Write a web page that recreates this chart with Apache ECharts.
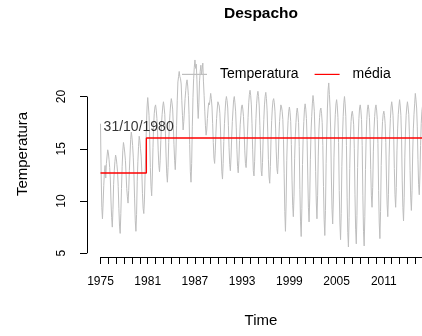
<!DOCTYPE html>
<html><head><meta charset="utf-8">
<script src="https://cdn.jsdelivr.net/npm/echarts@6/dist/echarts.min.js"></script>
<style>html,body{margin:0;padding:0;background:#fff}#c{width:422px;height:336px}</style>
</head><body><div id="c"></div>
<script>
const titulo = 'Despacho';
const inicio = 1975;
const frequencia = 12;
// Temperatura mensal (jan..dez), 1975-2015
const temperatura = [
17.4,12.6,9.4,8.3,9.8,11.5,12.8,13.4,12.2,13.6,14.3,14.9,
14.6,14.0,13.2,12.1,10.0,8.4,7.5,9.2,11.6,12.9,13.8,14.4,
14.1,13.5,12.8,11.4,9.3,7.6,6.9,8.8,11.2,13.3,14.8,15.6,
15.2,14.6,13.9,12.6,11.2,10.4,9.8,11.0,12.9,14.4,15.9,16.6,
16.1,15.3,14.2,12.5,10.2,8.1,7.1,8.7,11.9,13.8,15.2,16.2,
15.8,15.0,14.3,12.8,10.7,9.3,8.8,10.1,12.6,14.5,17.2,19.0,
19.9,19.1,18.2,16.0,13.2,11.4,10.5,12.3,15.1,17.2,18.4,19.0,
19.2,18.7,17.9,16.6,14.8,13.4,12.8,13.9,15.8,17.4,18.3,19.1,
19.5,19.0,18.3,16.5,14.3,12.6,11.8,13.2,15.6,17.3,18.4,19.3,
19.8,19.4,18.8,17.3,15.4,13.9,13.0,14.6,17.2,19.6,21.4,21.9,
22.4,21.9,21.7,21.2,19.6,18.2,16.8,17.6,18.7,19.8,20.6,21.3,
21.6,21.0,20.1,18.3,15.4,12.8,11.8,13.6,17.1,19.9,21.7,22.8,
23.5,22.7,23.1,21.6,19.2,17.9,19.4,21.5,22.4,23.0,22.1,22.6,
23.2,21.4,20.1,18.6,17.2,16.3,16.8,17.9,18.8,19.4,19.2,19.7,
20.3,19.8,19.0,17.4,15.6,14.1,13.6,14.8,16.5,17.9,18.8,19.5,
19.5,19.1,18.4,16.8,14.6,12.8,12.1,13.6,15.7,17.4,18.6,19.6,
20.0,19.6,18.9,17.2,15.1,13.5,12.9,14.2,16.1,17.6,18.7,19.7,
20.0,19.4,18.6,17.0,14.9,13.3,12.7,13.9,15.8,17.3,18.2,19.0,
19.2,18.8,18.1,16.7,14.8,13.6,13.2,14.4,16.3,18.0,19.4,20.2,
20.6,20.1,19.2,17.4,14.9,12.9,12.4,13.8,16.1,17.9,19.3,20.1,
20.5,20.0,19.1,17.2,14.8,12.9,12.4,13.7,16.0,17.8,19.2,20.0,
20.4,19.8,18.7,16.6,14.0,12.3,11.7,13.3,15.9,17.7,18.9,19.6,
19.8,19.4,18.6,16.9,14.7,13.1,12.6,14.0,16.2,17.6,18.5,19.2,
19.0,18.6,17.8,15.9,12.6,9.0,7.1,9.8,13.9,16.3,17.7,18.6,
19.0,18.5,17.6,15.4,12.0,9.6,8.5,10.4,14.1,16.2,17.5,18.5,
18.9,18.4,17.5,15.2,11.1,8.0,6.6,9.3,13.5,16.1,17.6,18.8,
19.3,18.8,17.9,15.8,12.4,9.4,8.0,10.2,14.0,16.6,18.1,19.3,
20.1,19.5,18.6,16.4,12.8,9.9,8.3,10.5,14.3,16.8,18.0,18.7,
18.9,18.4,17.5,15.3,11.4,8.2,6.7,9.1,13.6,16.5,18.9,20.6,
21.3,20.2,18.9,16.6,12.3,9.2,7.8,10.1,14.2,16.7,18.3,19.3,
19.7,19.1,18.0,15.6,11.0,7.9,6.3,8.8,13.3,16.2,18.1,19.4,
20.0,19.3,18.1,15.3,10.3,7.0,5.6,8.4,13.1,16.0,17.6,18.4,
18.6,18.1,17.3,15.0,10.6,7.3,5.9,8.6,13.2,16.1,17.9,18.9,
19.2,18.7,17.8,15.3,10.5,7.1,5.7,8.5,13.0,16.0,17.8,18.8,
19.2,18.8,18.0,16.2,13.0,10.5,9.4,11.3,14.7,16.8,18.1,18.9,
19.2,18.7,17.8,15.5,11.0,7.9,6.4,9.0,13.4,16.1,17.6,18.3,
18.6,18.2,17.4,15.6,12.2,9.7,8.5,10.6,14.2,16.4,17.9,19.0,
19.5,19.0,18.2,16.4,13.1,10.6,9.4,11.3,14.8,16.9,18.3,19.1,
19.7,19.1,18.2,16.0,12.0,9.4,8.1,10.3,14.2,16.7,18.2,19.0,
19.5,19.0,18.3,16.4,12.9,10.3,9.1,11.0,14.6,16.9,18.3,19.3,
20.3,19.7,18.9,17.1,14.0,11.6,10.6,12.4,15.3,17.4,18.6,19.1
];
const mediaValores = [12.68, 16.03];
const mediaQuebra = 1980.83;
const rotuloQuebra = '31/10/1980';
const xTicks = [1975,1976,1977,1978,1979,1980,1981,1982,1983,1984,1985,1986,1987,1988,1989,1990,1991,1992,1993,1994,1995,1996,1997,1998,1999,2000,2001,2002,2003,2004,2005,2006,2007,2008,2009,2010,2011,2012,2013,2014,2015,2016];
const xRotulos = [1975,1981,1987,1993,1999,2005,2011];
const yTicks = [5,10,15,20];

const X_MIN = 1973.285, X_MAX = 2017.5, Y_MIN = 4.64, Y_MAX = 24.36;
const fonte = 'Liberation Sans, Arial, Helvetica, sans-serif';

const serieTemp = temperatura.map((v, i) => [inicio + i / frequencia, v]);
const fim = inicio + (temperatura.length - 1) / frequencia;
const serieMedia = [[inicio, mediaValores[0]], [mediaQuebra, mediaValores[0]], [mediaQuebra, mediaValores[1]], [fim, mediaValores[1]]];

const chart = echarts.init(document.getElementById('c'), null, {renderer: 'canvas'});
chart.setOption({
  animation: false,
  backgroundColor: '#fff',
  textStyle: {fontFamily: fonte, color: '#000'},
  title: {
    text: titulo, left: 261, top: 6, padding: 0, textAlign: 'center',
    textStyle: {fontFamily: fonte, fontSize: 15.5, fontWeight: 'bold', color: '#000'}
  },
  legend: {
    data: [{name: 'Temperatura', icon: 'rect'}, {name: 'média', icon: 'rect'}],
    left: 182, top: 67.4, padding: 0,
    itemWidth: 25, itemHeight: 1.2, itemGap: 16,
    textStyle: {fontFamily: fonte, fontSize: 14, color: '#000', padding: [0, 0, 0, 8]}
  },
  grid: {left: 87, top: 51, width: 348, height: 206, containLabel: false, outerBoundsMode: 'none'},
  xAxis: {
    type: 'value', min: X_MIN, max: X_MAX,
    axisLine: {show: false}, splitLine: {show: false},
    axisTick: {show: true, customValues: xTicks, length: 7, lineStyle: {color: '#000', width: 1}},
    axisLabel: {customValues: xRotulos, margin: 19, fontSize: 12, color: '#000', fontFamily: fonte,
      formatter: v => String(Math.round(v))},
    name: 'Time', nameLocation: 'middle', nameGap: 56,
    nameTextStyle: {fontSize: 15, color: '#000', fontFamily: fonte}
  },
  yAxis: {
    type: 'value', min: Y_MIN, max: Y_MAX,
    axisLine: {show: false}, splitLine: {show: false},
    axisTick: {show: true, customValues: yTicks, length: 7, lineStyle: {color: '#000', width: 1}},
    axisLabel: {customValues: yTicks, rotate: 90, margin: 19, fontSize: 12, color: '#000', fontFamily: fonte,
      formatter: v => String(Math.round(v))},
    name: 'Temperatura', nameLocation: 'middle', nameGap: 57, nameRotate: 90,
    nameTextStyle: {fontSize: 15, color: '#000', fontFamily: fonte}
  },
  series: [
    {
      name: 'Temperatura', type: 'line', data: serieTemp, symbol: 'none', clip: false,
      lineStyle: {color: '#bebebe', width: 1}, itemStyle: {color: '#bebebe'}, z: 2,
      markLine: {
        silent: true, symbol: 'none', animation: false, label: {show: false},
        lineStyle: {color: '#000', width: 1, type: 'solid'},
        emphasis: {disabled: true},
        data: [
          [{coord: [xTicks[0], Y_MIN]}, {coord: [xTicks[xTicks.length - 1], Y_MIN]}],
          [{coord: [X_MIN, yTicks[0]]}, {coord: [X_MIN, yTicks[yTicks.length - 1]]}]
        ]
      }
    },
    {
      name: 'média', type: 'line', data: serieMedia, symbol: 'none', clip: false,
      lineStyle: {color: '#ff0000', width: 1.3}, itemStyle: {color: '#ff0000'}, z: 3
    },
    {
      name: 'rotulo', type: 'scatter', data: [[1975.33, 17.04]], symbolSize: 1,
      itemStyle: {color: 'rgba(0,0,0,0)'}, silent: true, z: 4,
      label: {show: true, position: 'right', distance: 0, formatter: rotuloQuebra,
        fontSize: 14, color: '#000', fontFamily: fonte}
    }
  ]
});
</script></body></html>
